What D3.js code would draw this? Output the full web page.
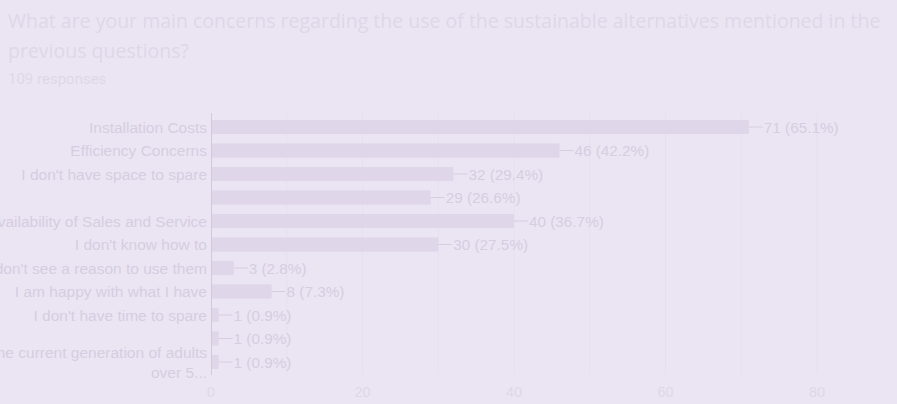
<!DOCTYPE html>
<html><head><meta charset="utf-8">
<script src="https://cdn.jsdelivr.net/npm/d3@7"></script>
<style>
html,body{margin:0;padding:0;background:#ebe5f3;overflow:hidden}
svg{display:block}
</style></head>
<body>
<svg id="c" width="897" height="404"></svg>
<script>
const titleLines = ["What are your main concerns regarding the use of the sustainable alternatives mentioned in the", "previous questions?"];
const subtitle = "109 responses";
const categories = ["Installation Costs","Efficiency Concerns","I don't have space to spare","","Availability of Sales and Service","I don't know how to","I don't see a reason to use them","I am happy with what I have","I don't have time to spare","",["The current generation of adults","over 5..."]];
const counts = [71,46,32,29,40,30,3,8,1,1,1];
const percents = ["65.1%","42.2%","29.4%","26.6%","36.7%","27.5%","2.8%","7.3%","0.9%","0.9%","0.9%"];
const xTicks = [0,20,40,60,80];
const gridValues = [10,20,30,40,50,60,70,80];

const bg="#ebe5f3", barCol="#dfd6ea", txt="#d6cde1", titleCol="#ded7e8", gridCol="#e6dfee", axisCol="#d2cadc";
const svg=d3.select("#c");
svg.append("rect").attr("width",897).attr("height",404).attr("fill",bg);

svg.selectAll("text.title").data(titleLines).join("text")
  .attr("x",8).attr("y",(d,i)=>28+i*30)
  .attr("font-family","'Open Sans', sans-serif").attr("font-size",19.5)
  .attr("fill",titleCol).text(d=>d);
svg.append("text").attr("x",8).attr("y",84).attr("font-family","Roboto, sans-serif")
  .attr("font-size",15).attr("fill",titleCol).text(subtitle);

const x=d3.scaleLinear().domain([0,80]).range([211,817]);
const y=d3.scaleBand().domain(d3.range(categories.length)).range([115.25,373.75]).paddingInner(0.4).paddingOuter(0.2);

// grid
svg.append("g").selectAll("line").data(gridValues).join("line")
  .attr("x1",d=>x(d)).attr("x2",d=>x(d)).attr("y1",113).attr("y2",374)
  .attr("stroke",gridCol).attr("stroke-width",1);

// bars
svg.append("g").selectAll("rect").data(counts).join("rect")
  .attr("x",x(0)).attr("y",(d,i)=>y(i)).attr("width",d=>x(d)-x(0)).attr("height",y.bandwidth())
  .attr("fill",barCol);

// leader lines and value labels
const lab=svg.append("g");
counts.forEach((d,i)=>{
  const cy=y(i)+y.bandwidth()/2;
  lab.append("line").attr("x1",x(d)).attr("x2",x(d)+14).attr("y1",cy).attr("y2",cy).attr("stroke",txt);
  lab.append("text").attr("x",x(d)+15).attr("y",cy).attr("dy","0.36em")
    .attr("font-family","'Liberation Sans', Arial, sans-serif").attr("font-size",15.3)
    .attr("fill",txt).text(`${d} (${percents[i]})`);
});

// axis line
svg.append("line").attr("x1",x(0)+0.5).attr("x2",x(0)+0.5).attr("y1",113).attr("y2",375).attr("stroke",axisCol);

// category labels
const cl=svg.append("g").attr("font-family","'Liberation Sans', Arial, sans-serif").attr("font-size",15.5).attr("fill",txt).attr("text-anchor","end");
categories.forEach((c,i)=>{
  const cy=y(i)+y.bandwidth()/2;
  const lines=Array.isArray(c)?c:[c];
  const t=cl.append("text").attr("x",207).attr("y",cy - (lines.length-1)*10);
  lines.forEach((l,j)=>t.append("tspan").attr("x",207).attr("dy",j===0?"0.36em":"20").text(l));
});

// x tick labels
svg.append("g").selectAll("text").data(xTicks).join("text")
  .attr("x",d=>x(d)).attr("y",397).attr("text-anchor","middle")
  .attr("font-family","'Liberation Sans', Arial, sans-serif").attr("font-size",14.5)
  .attr("fill",titleCol).text(d=>d);
</script>
</body></html>
